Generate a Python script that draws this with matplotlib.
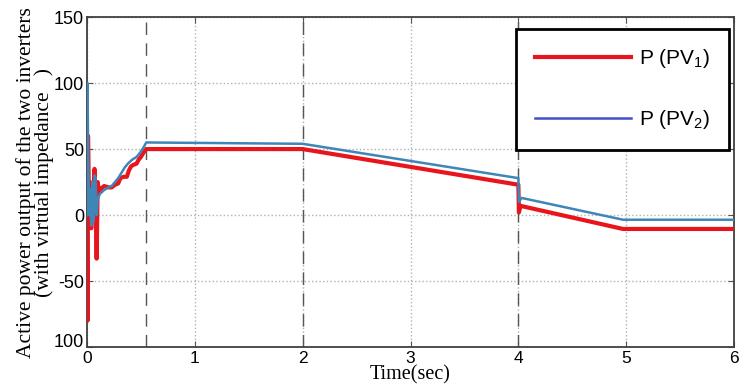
import numpy as np
import matplotlib.pyplot as plt
from matplotlib.transforms import ScaledTranslation

plt.rcParams['mathtext.default'] = 'regular'

# === Données ===
t_pv1 = [0, 0.005, 0.01, 0.015, 0.02, 0.03, 0.04, 0.05, 0.06, 0.07, 0.08, 0.09,
         0.1, 0.11, 0.13, 0.16, 0.2, 0.23, 0.26, 0.29, 0.31, 0.34, 0.37, 0.39,
         0.41, 0.43, 0.46, 0.48, 0.5, 0.53, 0.55, 2.0, 4.0, 4.005, 4.02, 4.97, 6.0]
p_pv1 = [0, -80, 60, 35, -5, 25, -10, 20, 5, 35, 15, -33,
         25, 18, 20, 22, 21, 21, 23, 24, 28, 29, 29, 34,
         37, 38, 39, 42, 44, 48, 50, 50, 23, 2, 7, -10.5, -10.5]

t_pv2 = [0, 0.005, 0.01, 0.02, 0.03, 0.04, 0.05, 0.06, 0.07, 0.08, 0.09, 0.1,
         0.12, 0.16, 0.2, 0.23, 0.26, 0.29, 0.32, 0.35, 0.38, 0.42, 0.46, 0.5,
         0.53, 0.55, 2.0, 4.0, 4.005, 4.03, 4.97, 6.0]
p_pv2 = [0, 100, 60, 0, 20, -8, 25, -5, 30, 28, 0, 12,
         16, 19, 21, 22, 25, 28, 32, 36, 39, 42, 44, 48,
         52, 55, 54, 28, 10, 13, -3.5, -3.5]

event_times = [0.55, 2, 4]
x_ticks = [0, 1, 2, 3, 4, 5, 6]
y_ticks = [-100, -50, 0, 50, 100, 150]
y_tick_labels = ["100", "-50", "0", "50", "100", "150"]

sans = ['Liberation Sans', 'DejaVu Sans']
serif = ['Liberation Serif', 'DejaVu Serif']

# === Figure ===
fig = plt.figure(figsize=(7.43, 3.87), dpi=100)
ax = fig.add_axes([0.117, 0.103, 0.871, 0.853])

ax.plot(t_pv1, p_pv1, color='#e8161c', lw=3.0, label='P (PV$_1$)', zorder=3)
ax.plot(t_pv2, p_pv2, color='#3f86b8', lw=1.8, label='P (PV$_2$)', zorder=4)

for tx in event_times:
    ax.axvline(tx, color='#555555', lw=1.0, ls=(0, (9, 6)), zorder=2)

ax.set_xlim(0, 6)
ax.set_ylim(-100, 150)
ax.set_xticks(x_ticks)
ax.set_yticks(y_ticks)
ax.set_yticklabels(y_tick_labels)
ax.grid(True, ls=':', color='#b0b0b0', lw=1.0)
ax.tick_params(direction='in', top=True, right=True, length=4,
               labelsize=13, color='#555555')
ax.tick_params(axis='x', pad=3, labelsize=12.5)
ax.tick_params(axis='y', pad=2)
for lab in ax.get_xticklabels() + ax.get_yticklabels():
    lab.set_family(sans)
# l'étiquette du bas est un peu remontée, comme sur l'original
bottom_lab = ax.get_yticklabels()[0]
bottom_lab.set_transform(bottom_lab.get_transform()
                         + ScaledTranslation(0, 5 / 72, fig.dpi_scale_trans))
for s in ax.spines.values():
    s.set_color('#404040')
    s.set_linewidth(1.3)

ax.set_xlabel('Time(sec)', family=serif, fontsize=14.5, labelpad=-1)
ax.set_ylabel('Active power output of the two inverters\n(with virtual impedance   )',
              family=serif, fontsize=15.5, labelpad=0, linespacing=0.9)

# === Légende ===
leg = ax.legend(loc='upper left', bbox_to_anchor=(0.663, 0.965), handlelength=4.6,
                labelspacing=1.8, borderpad=0.9, handletextpad=0.4,
                prop={'family': sans, 'size': 15}, fancybox=False,
                framealpha=1, borderaxespad=0)
leg.get_frame().set_edgecolor('black')
leg.get_frame().set_linewidth(2.0)
leg.get_lines()[1].set_color('#4050c8')

fig.savefig('out.png', dpi=100)
